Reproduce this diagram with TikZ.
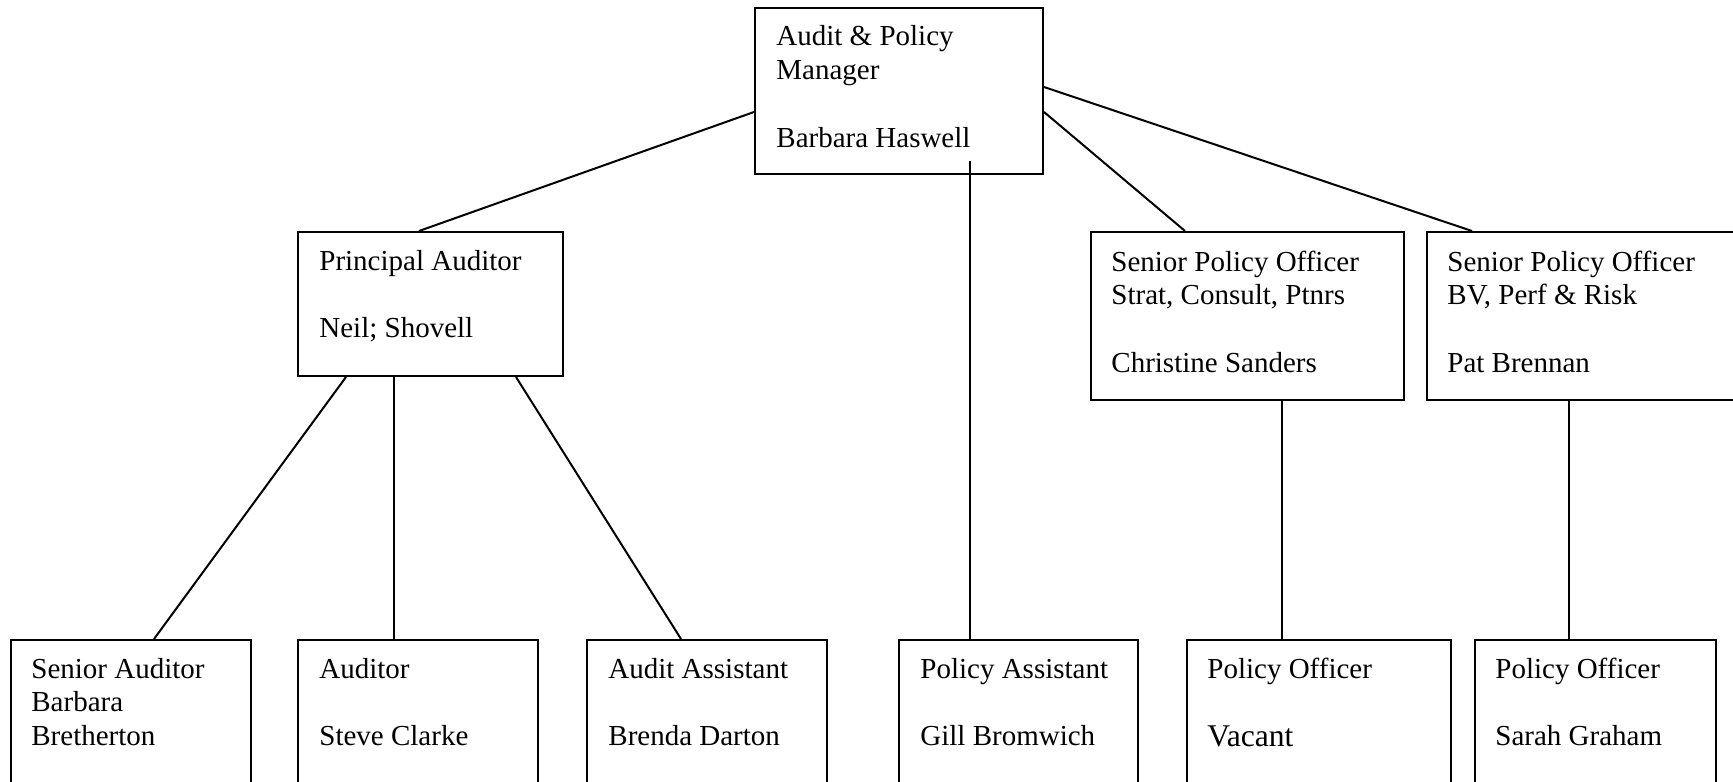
\documentclass[tikz,border=0pt]{standalone}
\usepackage{fontspec}
\setmainfont{Liberation Serif}
\usetikzlibrary{fit,calc}

% Stacked lines of text, baseline on the first line
\newcommand{\rolelines}[1]{\begin{tabular}[t]{@{}l@{}}#1\end{tabular}}

\begin{document}
\begin{tikzpicture}[
    x=0.5pt, y=-0.5pt,
    font=\fontsize{14.5}{16.9}\selectfont,
    box/.style={draw, line width=1pt, rectangle, inner sep=0pt},
    lbl/.style={anchor=base west, inner sep=0pt},
    link/.style={draw, line width=1pt}
  ]
  \useasboundingbox (0,0) rectangle (1733,781);
  \clip (0,0) rectangle (1733,781);

  % boxes
  \node[box, fit={(755,8) (1043,174)}] (mgr) {};
  \node[box, fit={(298,232) (563,376)}] (pa) {};
  \node[box, fit={(1091,232) (1404,400)}] (spo1) {};
  \node[box, fit={(1427,232) (1745,400)}] (spo2) {};
  \node[box, fit={(11,640) (251,800)}] (sa) {};
  \node[box, fit={(298,640) (538,800)}] (aud) {};
  \node[box, fit={(587,640) (827,800)}] (aa) {};
  \node[box, fit={(899,640) (1138,800)}] (passt) {};
  \node[box, fit={(1187,640) (1451,800)}] (po1) {};
  \node[box, fit={(1475,640) (1716,800)}] (po2) {};

  % texts
  \node[lbl] (mgr-t) at (776,46) {\rolelines{Audit \& Policy\\Manager\\ \\Barbara Haswell}};
  \node[lbl] (pa-t) at (319,270) {\rolelines{Principal Auditor\\ \\Neil; Shovell}};
  \node[lbl] (spo1-t) at (1111,271) {\rolelines{Senior Policy Officer\\Strat, Consult, Ptnrs\\ \\Christine Sanders}};
  \node[lbl] (spo2-t) at (1447,271) {\rolelines{Senior Policy Officer\\BV, Perf \& Risk\\ \\Pat Brennan}};
  \node[lbl] (sa-t) at (31,678) {\rolelines{Senior Auditor\\Barbara\\Bretherton}};
  \node[lbl] (aud-t) at (319,678) {\rolelines{Auditor\\ \\Steve Clarke}};
  \node[lbl] (aa-t) at (608,678) {\rolelines{Audit Assistant\\ \\Brenda Darton}};
  \node[lbl] (passt-t) at (920,678) {\rolelines{Policy Assistant\\ \\Gill Bromwich}};
  \node[lbl] (po1-t) at (1207,678) {\rolelines{Policy Officer\\ \\\raisebox{-0.5pt}{\fontsize{15.8}{18}\selectfont Vacant}}};
  \node[lbl] (po2-t) at (1495,678) {\rolelines{Policy Officer\\ \\Sarah Graham}};

  % connectors from the manager
  \draw[link] ($(mgr.north west)+(0,105)$) -- ($(pa.north west)+(122,0)$);
  \draw[link] ($(mgr.north east)+(0,105)$) -- ($(spo1.north west)+(95,0)$);
  \draw[link] ($(mgr.north east)+(0,80)$) -- ($(spo2.north west)+(46,0)$);
  \draw[link] ($(mgr.south west)+(216,-14)$) -- ($(passt.north west)+(72,0)$);

  % connectors from the principal auditor
  \draw[link] ($(pa.south west)+(49,0)$) -- ($(sa.north west)+(144,0)$);
  \draw[link] ($(pa.south west)+(97,0)$) -- ($(aud.north west)+(97,0)$);
  \draw[link] ($(pa.south west)+(219,0)$) -- ($(aa.north west)+(95,0)$);

  % connectors from the senior policy officers
  \draw[link] ($(spo1.south west)+(192,0)$) -- ($(po1.north west)+(96,0)$);
  \draw[link] ($(spo2.south west)+(143,0)$) -- ($(po2.north west)+(95,0)$);
\end{tikzpicture}
\end{document}
